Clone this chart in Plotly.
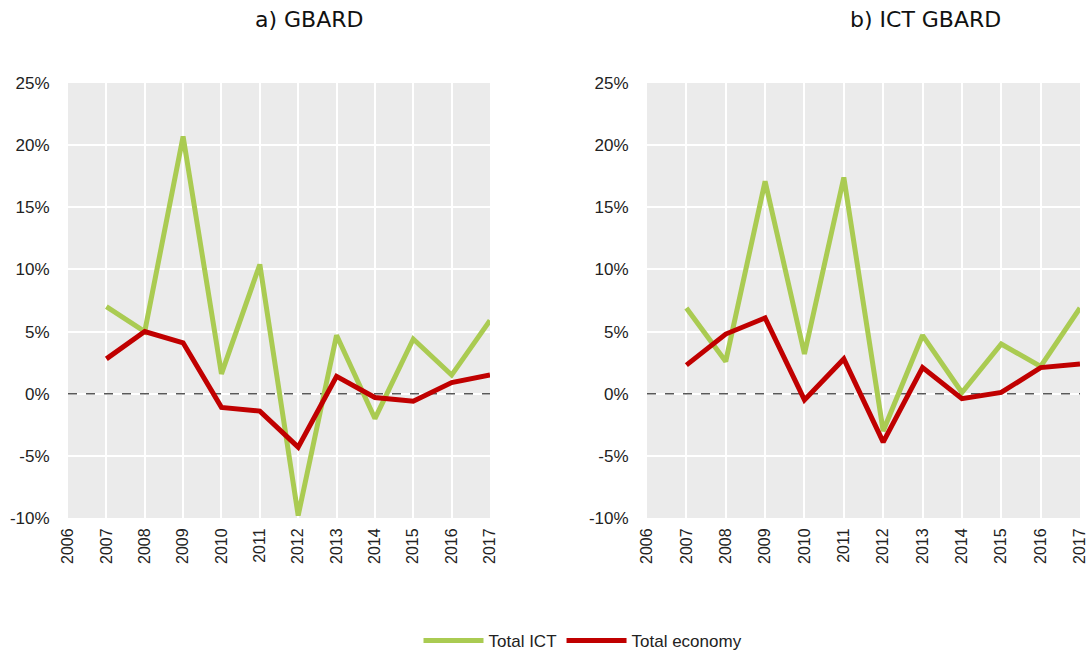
import plotly.graph_objects as go

years = [2007, 2008, 2009, 2010, 2011, 2012, 2013, 2014, 2015, 2016, 2017]
tick_years = list(range(2006, 2018))
y_ticks = [-10, -5, 0, 5, 10, 15, 20, 25]
y_ticktext = ["-10%", "-5%", "0%", "5%", "10%", "15%", "20%", "25%"]

gbard_ict = [7.0, 5.0, 20.7, 1.6, 10.4, -9.8, 4.7, -2.0, 4.4, 1.5, 5.9]
gbard_total = [2.8, 5.0, 4.1, -1.1, -1.4, -4.3, 1.4, -0.3, -0.6, 0.9, 1.5]

ict_gbard_ict = [6.9, 2.6, 17.1, 3.2, 17.4, -3.0, 4.7, 0.1, 4.0, 2.2, 6.9]
ict_gbard_total = [2.3, 4.8, 6.1, -0.5, 2.8, -3.9, 2.1, -0.4, 0.1, 2.1, 2.4]

titles = ["a) GBARD", "b) ICT GBARD"]

GREEN = "#AACB52"
RED = "#C00000"

fig = go.Figure()

panels = [(gbard_ict, gbard_total, "x", "y"), (ict_gbard_ict, ict_gbard_total, "x2", "y2")]
for i, (ict, tot, xa, ya) in enumerate(panels):
    fig.add_trace(go.Scatter(x=[2006, 2017], y=[0, 0], mode="lines",
                             line=dict(color="#595959", width=1.5, dash="dash"),
                             xaxis=xa, yaxis=ya, showlegend=False, hoverinfo="skip"))
    fig.add_trace(go.Scatter(x=years, y=ict, mode="lines", name="Total ICT",
                             line=dict(color=GREEN, width=5),
                             xaxis=xa, yaxis=ya, showlegend=(i == 0), cliponaxis=False))
    fig.add_trace(go.Scatter(x=years, y=tot, mode="lines", name="Total economy",
                             line=dict(color=RED, width=5),
                             xaxis=xa, yaxis=ya, showlegend=(i == 0), cliponaxis=False))

L, R, T, B = 68, 11, 83, 136
W, H = 1091, 654
pw = W - L - R
ph = H - T - B

def px(xp):
    return (xp - L) / pw

def py(yp):
    return (H - B - yp) / ph

xcommon = dict(range=[2006, 2017], tickvals=tick_years, ticktext=[str(t) for t in tick_years],
               tickangle=-90, showgrid=True, gridcolor="white", gridwidth=2,
               zeroline=False, showline=False, ticks="outside", ticklen=3, tickcolor="rgba(0,0,0,0)",
               tickfont=dict(family="Liberation Sans", size=16, color="#222222"))
ycommon = dict(range=[-10, 25], tickvals=y_ticks, ticktext=y_ticktext, showgrid=True,
               gridcolor="white", gridwidth=2, zeroline=False, showline=False,
               ticks="outside", ticklen=14, tickcolor="rgba(0,0,0,0)",
               tickfont=dict(family="Liberation Sans", size=17, color="#222222"))

fig.update_layout(
    width=W, height=H,
    margin=dict(l=L, r=R, t=T, b=B, autoexpand=False),
    paper_bgcolor="white",
    plot_bgcolor="#EBEBEB",
    xaxis=dict(domain=[0, px(490)], anchor="y", **xcommon),
    yaxis=dict(domain=[0, 1], anchor="x", **ycommon),
    xaxis2=dict(domain=[px(647), 1.0], anchor="y2", **xcommon),
    yaxis2=dict(domain=[0, 1], anchor="x2", **ycommon),
    showlegend=True,
    legend=dict(orientation="h", x=px(583), xanchor="center", y=py(641), yanchor="middle",
                font=dict(family="Liberation Sans", size=17, color="#222222"),
                itemwidth=60, bgcolor="rgba(0,0,0,0)"),
    annotations=[
        dict(text=titles[0], x=px(309), y=py(20), xref="paper", yref="paper",
             xanchor="center", yanchor="middle",
             showarrow=False, font=dict(family="DejaVu Sans", size=22, color="#111111")),
        dict(text=titles[1], x=px(925), y=py(20), xref="paper", yref="paper",
             xanchor="center", yanchor="middle",
             showarrow=False, font=dict(family="DejaVu Sans", size=22, color="#111111")),
    ],
)

fig.write_html("out.html", config={"displayModeBar": False})

with open("out.html", "r", encoding="utf-8") as f:
    html = f.read()
html = html.replace("<body>", '<body style="margin:0;padding:0;overflow:hidden">', 1)
with open("out.html", "w", encoding="utf-8") as f:
    f.write(html)
